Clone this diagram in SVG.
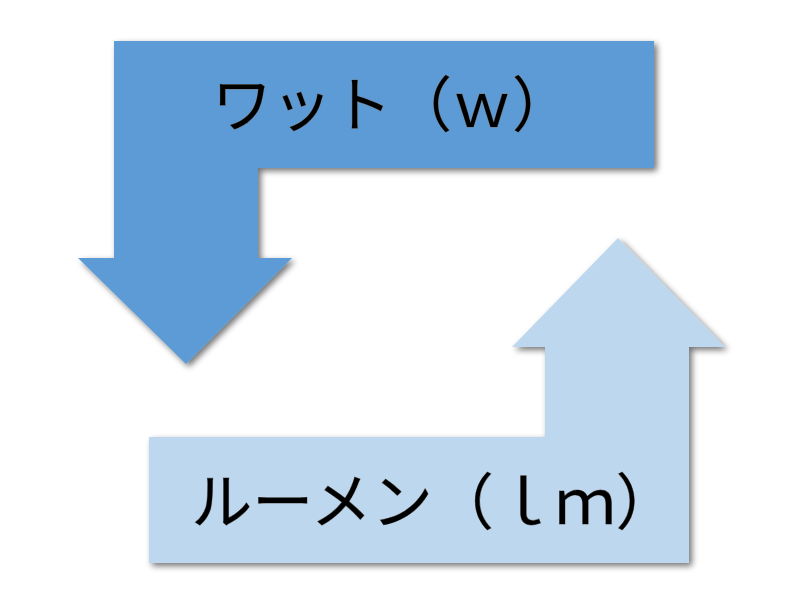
<svg xmlns="http://www.w3.org/2000/svg" width="800" height="600" viewBox="0 0 800 600">
  <defs>
    <filter id="shadow" x="-10%" y="-10%" width="130%" height="130%">
      <feGaussianBlur in="SourceAlpha" stdDeviation="3"/>
      <feOffset dx="3" dy="3" result="b"/>
      <feComponentTransfer><feFuncA type="linear" slope="0.55"/></feComponentTransfer>
      <feMerge><feMergeNode/><feMergeNode in="SourceGraphic"/></feMerge>
    </filter>
  </defs>
  <style>
    .lbl { font-family: "Noto Sans CJK JP", "Noto Sans", sans-serif; font-size: 60px; fill: #000; stroke: #7a7a7a; stroke-width: 0.8; paint-order: stroke; }
  </style>
  <rect width="800" height="600" fill="#fff"/>
  <g id="watt">
    <path d="M114,41 H654 V168 H258 V258 H292 L186,364 L78,258 H114 Z" fill="#5B9BD5" filter="url(#shadow)"/>
    <text class="lbl" x="392" y="127" text-anchor="middle">ワット（ｗ）</text>
  </g>
  <g id="lumen">
    <path d="M149,437 H545 V347 H512 L618,238 L725,347 H689 V563 H149 Z" fill="#BDD7EE" filter="url(#shadow)"/>
    <text class="lbl" x="434" y="524" text-anchor="middle" style="font-size:61px">ルーメン（ｌｍ）</text>
  </g>
  <g id="connectors"/>
</svg>
